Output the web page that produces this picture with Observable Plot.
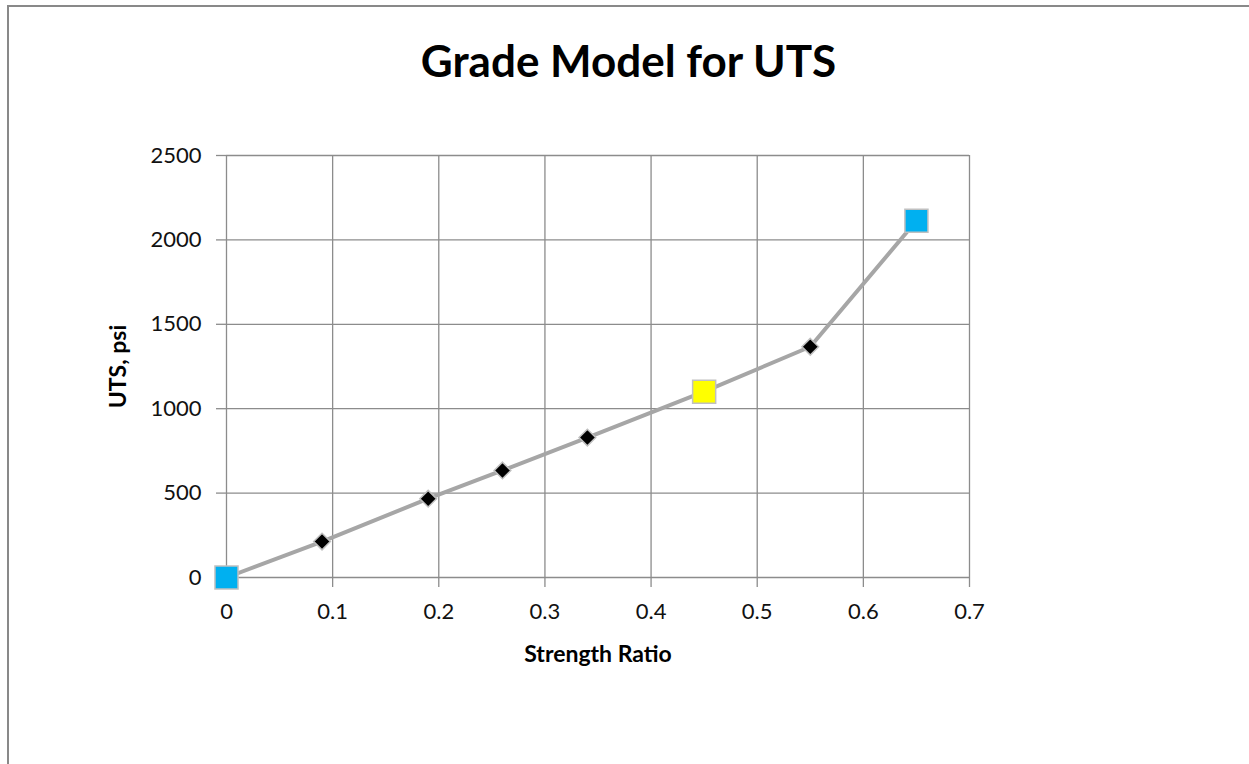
<!DOCTYPE html>
<html><head><meta charset="utf-8">
<script src="https://cdn.jsdelivr.net/npm/d3@7"></script>
<script src="https://cdn.jsdelivr.net/npm/@observablehq/plot@0.6"></script>
<style>
body{margin:0;background:#fff;}
#wrap{position:relative;width:1249px;height:764px;overflow:hidden;font-family:Lato,"Open Sans",sans-serif;}
#frame{position:absolute;left:7px;top:5px;width:1300px;height:800px;border-top:2px solid #898989;border-left:2px solid #898989;}
#title{position:absolute;left:0;width:1257px;top:35px;text-align:center;font-weight:bold;font-size:44px;line-height:50px;color:#000;}
#chart{position:absolute;left:0;top:0;}
</style></head>
<body>
<div id="wrap"><div id="frame"></div><div id="chart"></div><div id="title">Grade Model for UTS</div></div>
<script>
const strengthRatio = [0, 0.09, 0.19, 0.26, 0.34, 0.45, 0.55, 0.65];
const uts = [0, 213, 467, 634, 829, 1101, 1367, 2113];
const pointType = ["anchor", "model", "model", "model", "model", "reference", "model", "anchor"];
const xTicks = [0, 0.1, 0.2, 0.3, 0.4, 0.5, 0.6, 0.7];
const yTicks = [0, 500, 1000, 1500, 2000, 2500];
const xLabel = "Strength Ratio";
const yLabel = "UTS, psi";

const data = strengthRatio.map((x, i) => ({x, y: uts[i], type: pointType[i]}));
const font = "Lato, 'Open Sans', sans-serif";
const chart = Plot.plot({
  width: 1249, height: 764,
  marginLeft: 226, marginRight: 280, marginTop: 155, marginBottom: 187,
  x: {domain: [0, 0.7]},
  y: {domain: [0, 2500]},
  color: {type: "ordinal", domain: ["anchor", "reference"], range: ["#00b0f0", "#ffff00"]},
  style: {fontFamily: font, fontSize: "22px", color: "#000", background: "transparent"},
  marks: [
    Plot.gridX(xTicks, {stroke: "#8c8c8c", strokeOpacity: 1, strokeWidth: 1.3}),
    Plot.gridY(yTicks, {stroke: "#8c8c8c", strokeOpacity: 1, strokeWidth: 1.3}),
    Plot.axisX(xTicks, {tickSize: 10, tickPadding: 16, stroke: "#8c8c8c", strokeWidth: 1.3, fill: "#111", tickFormat: d => String(d), label: null}),
    Plot.axisY(yTicks, {tickSize: 10, tickPadding: 15, stroke: "#8c8c8c", strokeWidth: 1.3, fill: "#111", tickFormat: d => String(d), label: null}),
    Plot.line(data, {x: "x", y: "y", stroke: "#a6a6a6", strokeWidth: 4}),
    Plot.dot(data.filter(d => d.type === "model"), {x: "x", y: "y", symbol: "diamond2", r: 7.5, fill: "#000", stroke: "#c0c0c0", strokeWidth: 1.5}),
    Plot.dot(data.filter(d => d.type !== "model"), {x: "x", y: "y", symbol: "square", r: 13, fill: "type", stroke: "#c0c0c0", strokeWidth: 1.5}),
    Plot.text([xLabel], {frameAnchor: "bottom", dy: 84, textAnchor: "middle", text: d => d, fontWeight: "bold", fontSize: 23, fill: "#000"}),
    Plot.text([yLabel], {frameAnchor: "left", dx: -108, rotate: -90, textAnchor: "middle", lineAnchor: "middle", text: d => d, fontWeight: "bold", fontSize: 23, fill: "#000"})
  ]
});
document.getElementById("chart").appendChild(chart);
</script>
</body></html>
